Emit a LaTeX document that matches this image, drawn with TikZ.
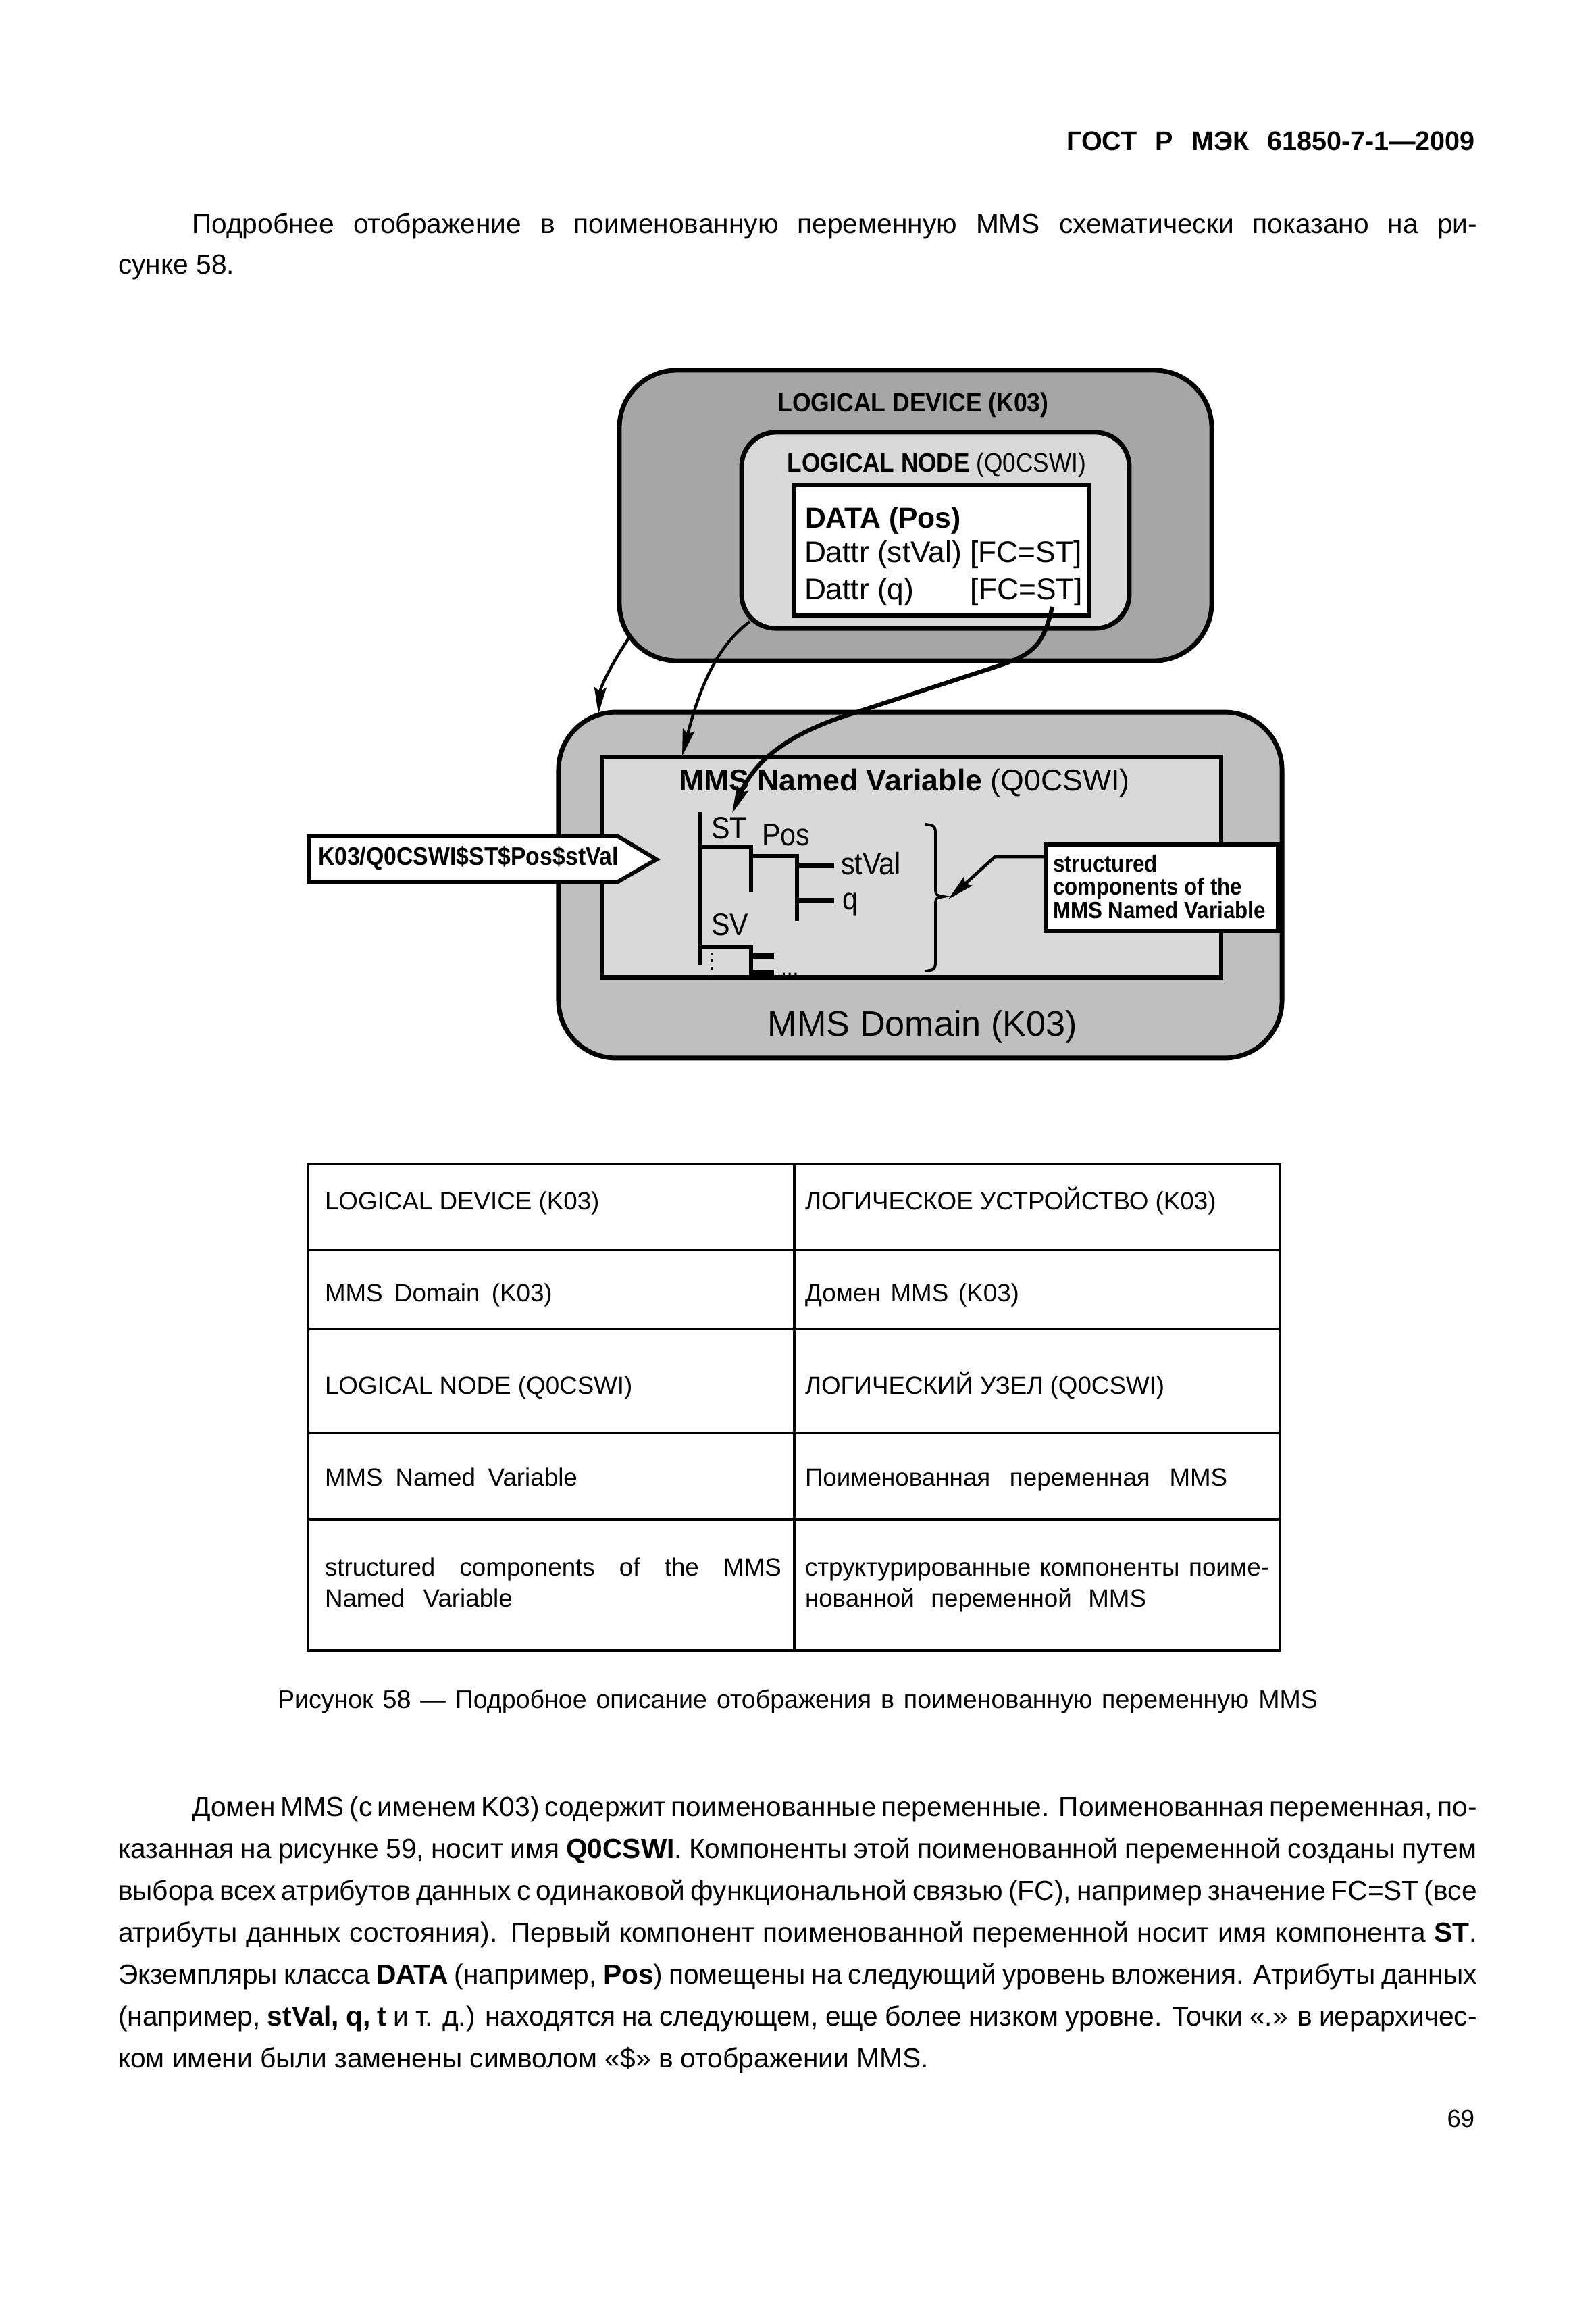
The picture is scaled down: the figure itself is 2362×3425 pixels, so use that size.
\documentclass[tikz,border=0pt]{standalone}
\usepackage{fontspec}
\setmainfont{Liberation Sans}
\newfontfamily\condfont[FakeStretch=0.9]{Liberation Sans}
\usetikzlibrary{arrows.meta}
\definecolor{ldgray}{gray}{0.65}
\definecolor{domgray}{gray}{0.75}
\definecolor{lngray}{gray}{0.85}
\newcommand\jl[2]{\makebox[#1][s]{\spaceskip=0.28em plus 2em minus 0.2em\relax #2}}
\newcommand\bodyfont{\fontsize{10.3}{12}\selectfont}
\newcommand\tblfont{\fontsize{9.3}{11}\selectfont}
\tikzset{
  txt/.style={inner sep=0pt, outer sep=0pt},
  bodyline/.style={txt, anchor=base west, font=\bodyfont},
  tblcell/.style={txt, anchor=base west, font=\tblfont},
  roundbox/.style={draw, line width=1.75pt, inner sep=0pt},
  sqbox/.style={draw, line width=1.75pt, inner sep=0pt},
  treeline/.style={line width=1.6pt},
  branchline/.style={line width=2pt},
  conn/.style={line width=1.1pt, -{Stealth[length=10pt,width=4.5pt,inset=1.5pt]}},
  tbl/.style={line width=0.8pt}
}
\begin{document}
\begin{tikzpicture}[x=0.253pt, y=-0.253pt]
\fill[white] (0,0) rectangle (2362,3425);
\useasboundingbox (0,0) rectangle (2362,3425);

% header and first paragraph
\node[txt, anchor=base east, font=\bfseries\fontsize{10}{12}\selectfont] (hdr) at (2184,222) {\jl{153pt}{ГОСТ Р МЭК 61850-7-1—2009}};
\node[bodyline] (p1a) at (284,345) {\jl{481.5pt}{Подробнее отображение в поименованную переменную MMS схематически показано на ри-}};
\node[bodyline] (p1b) at (175,405) {сунке 58.};

% ---------- diagram ----------
\node[roundbox, fill=ldgray, rounded corners=21.5pt, minimum width=221.9pt, minimum height=108.8pt] (ld) at (1355.5,763) {};
\node[txt, anchor=base, font=\condfont\bfseries\fontsize{10}{12}\selectfont] (ldt) at (1352,609) {LOGICAL DEVICE (K03)};
\node[roundbox, fill=lngray, rounded corners=12.7pt, minimum width=145.2pt, minimum height=73.4pt] (ln) at (1385,785) {};
\node[txt, anchor=base, font=\condfont\fontsize{9.9}{12}\selectfont] (lnt) at (1387,698) {\textbf{LOGICAL NODE} (Q0CSWI)};
\node[sqbox, fill=white, minimum width=110.8pt, minimum height=48.6pt] (data) at (1394,814) {};
\node[txt, anchor=base west, font=\bfseries\fontsize{10.8}{12}\selectfont] (d1) at (1192,781) {DATA (Pos)};
\node[txt, anchor=base west, font=\fontsize{11.2}{13}\selectfont] (d2) at (1191,832) {Dattr (stVal) [FC=ST]};
\node[txt, anchor=base west, font=\fontsize{11.2}{13}\selectfont] (d3) at (1191,887) {Dattr (q)};
\node[txt, anchor=base east, font=\fontsize{11.2}{13}\selectfont] (d4) at (1603,887) {[FC=ST]};

\node[roundbox, fill=domgray, rounded corners=21.5pt, minimum width=271pt, minimum height=129.5pt] (dom) at (1362.5,1310) {};
\node[txt, anchor=base, font=\fontsize{13.2}{15}\selectfont] (domt) at (1366,1533) {MMS Domain (K03)};
\node[sqbox, fill=lngray, minimum width=232pt, minimum height=82.7pt] (nv) at (1349.5,1283.5) {};
\node[txt, anchor=base west, font=\fontsize{11.3}{13}\selectfont] (nvt) at (1005,1170) {\textbf{MMS Named Variable} (Q0CSWI)};

% tree
\draw[treeline] (1036,1202) -- (1036,1428);
\draw[treeline] (1036,1253) -- (1112,1253) -- (1112,1320);
\draw[treeline] (1112,1267) -- (1180,1267) -- (1180,1363);
\draw[branchline] (1180,1281) -- (1235,1281);
\draw[branchline] (1180,1333) -- (1235,1333);
\draw[treeline] (1036,1402) -- (1112,1402) -- (1112,1447);
\draw[branchline] (1112,1415) -- (1146,1415);
\draw[branchline] (1112,1439) -- (1146,1439);
\draw[line width=1.2pt, dash pattern=on 1pt off 1.6pt] (1054,1410) -- (1054,1441);
\node[txt, anchor=base west, font=\condfont\fontsize{11.6}{13}\selectfont] (st) at (1053,1241) {ST};
\node[txt, anchor=base west, font=\condfont\fontsize{11.6}{13}\selectfont] (pos) at (1128,1251) {Pos};
\node[txt, anchor=base west, font=\condfont\fontsize{11.6}{13}\selectfont] (stval) at (1245,1294) {stVal};
\node[txt, anchor=base west, font=\condfont\fontsize{11.6}{13}\selectfont] (q) at (1247,1346) {q};
\node[txt, anchor=base west, font=\condfont\fontsize{11.6}{13}\selectfont] (sv) at (1053,1384) {SV};
\node[txt, anchor=base west, font=\fontsize{8}{10}\selectfont] (dots) at (1156,1443) {...};

% brace
\draw[line width=1pt] (1370,1220) .. controls (1385,1222) .. (1385,1240) -- (1385,1310)
  .. controls (1385,1325) .. (1397,1327) .. controls (1385,1329) .. (1385,1344)
  -- (1385,1418) .. controls (1385,1435) .. (1370,1437);

% K03 pointer box
\draw[line width=1.5pt, fill=white] (457,1238) -- (915,1238) -- (972,1272) -- (915,1305) -- (457,1305) -- cycle;
\node[txt, anchor=base west, font=\condfont\bfseries\fontsize{9.5}{11}\selectfont] (k03) at (471,1280) {K03/Q0CSWI\$ST\$Pos\$stVal};

% callout box
\node[sqbox, line width=1.5pt, fill=white, minimum width=87pt, minimum height=32.4pt] (comps) at (1720,1314) {};
\node[txt, anchor=base west, font=\condfont\bfseries\fontsize{8.8}{10}\selectfont] (c1) at (1559,1290) {structured};
\node[txt, anchor=base west, font=\condfont\bfseries\fontsize{8.8}{10}\selectfont] (c2) at (1559,1324) {components of the};
\node[txt, anchor=base west, font=\condfont\bfseries\fontsize{8.8}{10}\selectfont] (c3) at (1559,1359) {MMS Named Variable};
\coordinate (cs) at (1548,1268);
\coordinate (bt) at (1404,1331);
\draw[conn, line width=1.2pt] (cs) -- (1473,1268) -- (bt);

% connectors from logical model to MMS
\coordinate (a1s) at (934,940);
\coordinate (a1e) at (886,1057);
\draw[conn] (a1s) .. controls (910,975) and (889,1015) .. (a1e);
\coordinate (a2s) at (1110,920);
\coordinate (a2e) at (1010,1119);
\draw[conn] (a2s) .. controls (1070,950) and (1040,1000) .. (a2e);
\coordinate (a3s) at (1558,898);
\coordinate (a3e) at (1084,1204);
\draw[conn, line width=1.6pt] (a3s) .. controls (1545,955) and (1530,968) .. (1480,985) -- (1250,1060) .. controls (1160,1090) and (1115,1130) .. (a3e);

% ---------- table ----------
\draw[tbl] (456,1723) rectangle (1895,2443);
\draw[tbl] (1176,1723) -- (1176,2443);
\foreach \yy in {1850,1967,2121,2249} \draw[tbl] (456,\yy) -- (1895,\yy);
\node[tblcell] (t1l) at (481,1790) {LOGICAL DEVICE (K03)};
\node[tblcell] (t1r) at (1192,1790) {ЛОГИЧЕСКОЕ УСТРОЙСТВО (K03)};
\node[tblcell] (t2l) at (481,1926) {\jl{85.2pt}{MMS Domain (K03)}};
\node[tblcell] (t2r) at (1192,1926) {\jl{80.2pt}{Домен MMS (K03)}};
\node[tblcell] (t3l) at (481,2063) {LOGICAL NODE (Q0CSWI)};
\node[tblcell] (t3r) at (1192,2063) {ЛОГИЧЕСКИЙ УЗЕЛ (Q0CSWI)};
\node[tblcell] (t4l) at (481,2199) {\jl{94.6pt}{MMS Named Variable}};
\node[tblcell] (t4r) at (1192,2199) {\jl{158.2pt}{Поименованная переменная MMS}};
\node[tblcell] (t5l) at (481,2332) {\jl{171pt}{structured components of the MMS}};
\node[tblcell] (t5lb) at (481,2378) {\jl{70.3pt}{Named Variable}};
\node[tblcell] (t5r) at (1192,2332) {\jl{173.8pt}{структурированные компоненты поиме-}};
\node[tblcell] (t5rb) at (1192,2378) {\jl{127.8pt}{нованной переменной MMS}};

% caption
\node[txt, anchor=base, font=\fontsize{9.5}{11}\selectfont] (cap) at (1181,2528) {\jl{389.6pt}{Рисунок 58 — Подробное описание отображения в поименованную переменную MMS}};

% body paragraph
\node[bodyline] (b1) at (284,2688) {\jl{481.5pt}{Домен MMS (с именем K03) содержит поименованные переменные. Поименованная переменная, по-}};
\node[bodyline] (b2) at (175,2750) {\jl{509pt}{казанная на рисунке 59, носит имя \textbf{Q0CSWI}. Компоненты этой поименованной переменной созданы путем}};
\node[bodyline] (b3) at (175,2812) {\jl{509pt}{выбора всех атрибутов данных с одинаковой функциональной связью (FC), например значение FC=ST (все}};
\node[bodyline] (b4) at (175,2874) {\jl{509pt}{атрибуты данных состояния). Первый компонент поименованной переменной носит имя компонента \textbf{ST}.}};
\node[bodyline] (b5) at (175,2936) {\jl{509pt}{Экземпляры класса \textbf{DATA} (например, \textbf{Pos}) помещены на следующий уровень вложения. Атрибуты данных}};
\node[bodyline] (b6) at (175,2998) {\jl{509pt}{(например, \textbf{stVal, q, t} и т. д.) находятся на следующем, еще более низком уровне. Точки «.» в иерархичес-}};
\node[bodyline] (b7) at (175,3060) {ком имени были заменены символом «\$» в отображении MMS.};

\node[txt, anchor=base east, font=\fontsize{9.2}{11}\selectfont] (pg) at (2183,3148) {69};
\end{tikzpicture}
\end{document}
